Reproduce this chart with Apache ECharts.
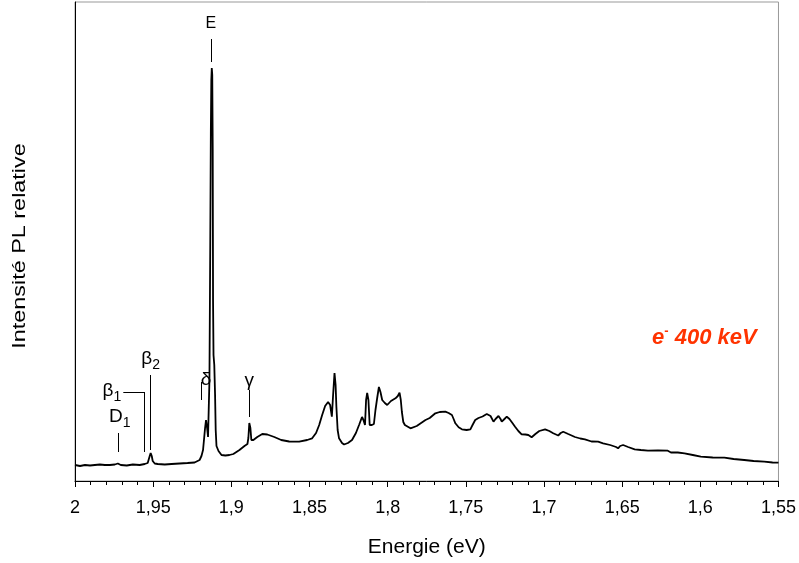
<!DOCTYPE html>
<html>
<head>
<meta charset="utf-8">
<script src="https://cdn.jsdelivr.net/npm/echarts@6/dist/echarts.min.js"></script>
<style>html,body{margin:0;padding:0;background:#fff}#c{width:799px;height:563px}</style>
</head>
<body>
<div id="c"></div>
<script>
// Spectrum: photon energy (eV) and relative PL intensity (arbitrary units)
const energy = [2.0000,1.9968,1.9936,1.9904,1.9873,1.9841,1.9809,1.9777,1.9745,1.9726,1.9707,1.9669,1.9630,1.9586,1.9554,1.9535,1.9522,1.9516,1.9509,1.9503,1.9490,1.9471,1.9426,1.9382,1.9331,1.9280,1.9235,1.9203,1.9191,1.9181,1.9175,1.9168,1.9162,1.9155,1.9149,1.9144,1.9140,1.9135,1.9131,1.9128,1.9125,1.9122,1.9119,1.9117,1.9114,1.9109,1.9104,1.9100,1.9095,1.9082,1.9063,1.9038,1.9012,1.8987,1.8948,1.8916,1.8897,1.8891,1.8885,1.8878,1.8872,1.8859,1.8834,1.8802,1.8770,1.8725,1.8681,1.8630,1.8566,1.8515,1.8483,1.8458,1.8438,1.8419,1.8400,1.8381,1.8368,1.8357,1.8349,1.8340,1.8333,1.8328,1.8320,1.8311,1.8292,1.8279,1.8254,1.8228,1.8203,1.8183,1.8164,1.8155,1.8145,1.8138,1.8131,1.8123,1.8115,1.8101,1.8088,1.8078,1.8067,1.8056,1.8046,1.8035,1.8018,1.8003,1.7979,1.7950,1.7935,1.7924,1.7916,1.7909,1.7900,1.7890,1.7854,1.7814,1.7758,1.7731,1.7695,1.7667,1.7631,1.7610,1.7589,1.7578,1.7567,1.7546,1.7525,1.7495,1.7471,1.7457,1.7440,1.7419,1.7393,1.7366,1.7355,1.7342,1.7323,1.7310,1.7291,1.7278,1.7270,1.7253,1.7238,1.7221,1.7202,1.7185,1.7164,1.7143,1.7119,1.7100,1.7079,1.7055,1.7030,1.6993,1.6966,1.6941,1.6909,1.6893,1.6877,1.6845,1.6802,1.6768,1.6738,1.6696,1.6654,1.6622,1.6577,1.6539,1.6526,1.6513,1.6494,1.6462,1.6420,1.6380,1.6335,1.6271,1.6208,1.6188,1.6176,1.6144,1.6101,1.6048,1.5997,1.5921,1.5846,1.5787,1.5719,1.5659,1.5591,1.5538,1.5500];
const intensity = [16,15,16,15.5,16,16.5,16,16,16.5,17.5,16,15.5,16.5,16,17,18,25,28,25,20,17.5,17,16.5,17,17.5,18,18.5,21,25,31,41,53,61,53,44,45,101,231,351,401,413,406,331,181,126,116,86,51,35,30,26,25.5,26,27,31,35,37,43,58,53,41,41,44,47,46.5,44,41,39.5,39.3,41,42.7,48,56,66,75,79,76,64.3,86,108,96,74.3,51,42.7,38,36.5,38,41,48,56,64,61,56,81,88,81,56,56,57,71,83,94,89,81,78,76,80,82.7,85,88.3,81,69,59,56,52.7,55,61,63,67.7,69,69.3,68,66,62,57.7,53.7,51.7,51,51.7,56,61,63,64.5,67,68.3,65,59.3,62,65,62,59.3,62,64.3,62,58,54.3,50,46.7,46.5,46,43.7,47,50,51.7,50,47.7,45.5,48,49.3,47,44,42.5,41.7,39.5,39.3,37.7,36,34,32.7,35,36,34,31.7,31,30.3,30.5,30.3,28.5,28,28.5,27.7,26,24.3,23.5,23.3,22,21,20,19.3,18.5,18.3];

// Axis
const xMin = 1.55, xMax = 2.0, xStep = 0.05;
const yMin = 0, yMax = 479;

// Peak annotations: label, subscript, label centre (eV, I), marker line (eV, I from, I to)
const annLabel   = ['D', 'β', 'β', 'δ', 'γ', 'E'];
const annSub     = ['1', '1', '2', '', '', ''];
const annLabelX  = [1.9714, 1.9764, 1.9516, 1.9162, 1.8885, 1.9131];
const annLabelY  = [64, 90, 122, 101, 100, 457];
const annLineX   = [1.9726, 1.9556, 1.9518, 1.9195, 1.8885, 1.9127];
const annLineY1  = [48, 89, 106, 99, 91, 442];
const annLineY2  = [29, 29, 31, 81, 64, 419];
// β1 horizontal connector (eV from, eV to, I)
const connX = [1.9691, 1.9556];
const connY = 89;

const sampleLabel = '400 keV';
const yTitle = 'Intensité PL relative';
const xTitle = 'Energie (eV)';

const data = energy.map((e, i) => [e, intensity[i]]);
const fam = 'Liberation Sans, Arial, sans-serif';

const lines = annLineX.map((x, i) => [{coord: [x, annLineY1[i]]}, {coord: [x, annLineY2[i]]}]);
lines.push([{coord: [connX[0], connY]}, {coord: [connX[1], connY]}]);

const points = annLabel.map((l, i) => ({
  coord: [annLabelX[i], annLabelY[i]],
  label: {formatter: l === 'E' ? '{e|E}' : (annSub[i] ? '{m|' + l + '}{s|' + annSub[i] + '}' : '{m|' + l + '}')}
}));

const chart = echarts.init(document.getElementById('c'), null, {renderer: 'canvas'});
chart.setOption({
  animation: false,
  backgroundColor: '#fff',
  grid: {left: 75, right: 18, top: 2, bottom: 82, show: true, borderColor: '#999', borderWidth: 1},
  xAxis: {
    type: 'value', inverse: true, min: xMin, max: xMax, interval: xStep,
    name: xTitle, nameLocation: 'middle', nameGap: 56,
    nameTextStyle: {fontSize: 21, color: '#000', fontFamily: fam},
    axisLine: {show: true, lineStyle: {color: '#000', width: 1}},
    axisTick: {show: true, length: 6, lineStyle: {color: '#000'}},
    minorTick: {show: true, splitNumber: 5, length: 4, lineStyle: {color: '#000'}},
    splitLine: {show: false},
    axisLabel: {fontSize: 18, color: '#000', fontFamily: fam, margin: 18,
      formatter: v => String(+v.toFixed(2)).replace('.', ',')}
  },
  yAxis: {
    type: 'value', min: yMin, max: yMax,
    axisLine: {show: true, lineStyle: {color: '#000', width: 1}},
    axisTick: {show: false}, axisLabel: {show: false}, splitLine: {show: false}
  },
  series: [{
    type: 'line', data: data, showSymbol: false, symbol: 'none',
    lineStyle: {color: '#000', width: 1.8}, silent: true,
    markLine: {
      silent: true, symbol: ['none', 'none'], animation: false,
      lineStyle: {color: '#000', width: 1, type: 'solid'},
      label: {show: false}, data: lines
    },
    markPoint: {
      silent: true, symbol: 'circle', symbolSize: 1, animation: false,
      itemStyle: {color: 'rgba(0,0,0,0)'},
      label: {
        show: true, position: 'inside', color: '#000', fontFamily: fam,
        rich: {
          m: {fontSize: 19, fontFamily: fam, color: '#000', lineHeight: 24, verticalAlign: 'middle'},
          e: {fontSize: 16, fontFamily: fam, color: '#000', lineHeight: 20, verticalAlign: 'middle'},
          s: {fontSize: 14, fontFamily: fam, color: '#000', lineHeight: 26, verticalAlign: 'bottom'}
        }
      },
      data: points
    }
  }],
  graphic: [{
    type: 'text', x: 20, y: 246, rotation: Math.PI / 2, scaleX: 1.3, scaleY: 1,
    style: {text: yTitle, fontSize: 18, fontFamily: fam, fill: '#000', align: 'center', verticalAlign: 'middle'}
  }, {
    type: 'text', left: 652, top: 325,
    style: {
      text: '{e|e}{p|-}{t| ' + sampleLabel + '}',
      rich: {
        e: {fontSize: 22, fontWeight: 'bold', fontStyle: 'italic', fill: '#ff3300', fontFamily: fam, lineHeight: 26, verticalAlign: 'middle'},
        p: {fontSize: 13, fontWeight: 'bold', fill: '#ff3300', fontFamily: fam, lineHeight: 26, verticalAlign: 'top'},
        t: {fontSize: 22, fontWeight: 'bold', fontStyle: 'italic', fill: '#ff3300', fontFamily: fam, lineHeight: 26, verticalAlign: 'middle'}
      }
    }
  }]
});
</script>
</body>
</html>
